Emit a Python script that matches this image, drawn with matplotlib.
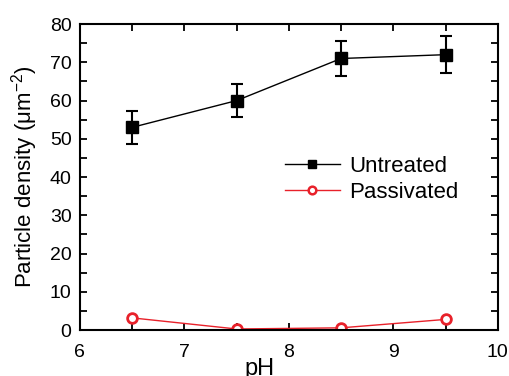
import matplotlib
matplotlib.use("Agg")
from matplotlib import pyplot as plt
from matplotlib.lines import Line2D
from matplotlib.ticker import MultipleLocator

plt.rcParams['font.family'] = ['Liberation Sans', 'DejaVu Sans']
plt.rcParams['mathtext.fontset'] = 'custom'
plt.rcParams['mathtext.rm'] = 'Liberation Sans'
plt.rcParams['mathtext.it'] = 'Liberation Sans'

ph = [6.5, 7.5, 8.5, 9.5]
untreated = [53.0, 60.0, 71.0, 72.0]
untreated_err = [4.3, 4.3, 4.7, 4.8]
passivated = [3.2, 0.3, 0.6, 2.8]

RED = '#e8212a'


def main():
    fig = plt.figure(figsize=(5.09, 3.76), dpi=100)
    ax = fig.add_axes([0.157, 0.122, 0.821, 0.814])

    ax.errorbar(ph, untreated, yerr=untreated_err, color='black', lw=1.0,
                marker='s', markersize=8, capsize=4.5, elinewidth=1.5,
                capthick=1.5)
    ax.plot(ph, passivated, color=RED, lw=1.0, marker='o',
            markersize=7, markerfacecolor='white', markeredgewidth=2.0)

    ax.set_xlim(6, 10)
    ax.set_ylim(0, 80)
    ax.xaxis.set_major_locator(MultipleLocator(1))
    ax.xaxis.set_minor_locator(MultipleLocator(0.5))
    ax.yaxis.set_major_locator(MultipleLocator(10))
    ax.yaxis.set_minor_locator(MultipleLocator(5))
    ax.tick_params(which='both', direction='in', top=True, right=True,
                   width=1.3, labelsize=14, length=5)
    ax.tick_params(axis='x', pad=10)
    ax.tick_params(axis='y', pad=6)
    for sp in ax.spines.values():
        sp.set_linewidth(1.5)

    ax.set_ylabel(r'Particle density ($\mu$m$^{-2}$)', fontsize=16)
    ax.yaxis.set_label_coords(-0.095, 0.5)
    ax.set_xlabel('pH', fontsize=17)
    ax.xaxis.set_label_coords(0.43, -0.09)

    # legend markers are drawn smaller than in the plot
    handles = [
        Line2D([], [], color='black', lw=1.0, marker='s', markersize=6),
        Line2D([], [], color=RED, lw=1.0, marker='o', markersize=5.5,
               markerfacecolor='white', markeredgewidth=1.8),
    ]
    ax.legend(handles, ['Untreated', 'Passivated'], loc='upper left',
              bbox_to_anchor=(0.49, 0.57), frameon=False, fontsize=16,
              handlelength=2.5, handletextpad=0.4, borderpad=0,
              borderaxespad=0, labelspacing=0.25, numpoints=1)

    fig.savefig('out.png', dpi=100)


if __name__ == "__main__":
    main()
